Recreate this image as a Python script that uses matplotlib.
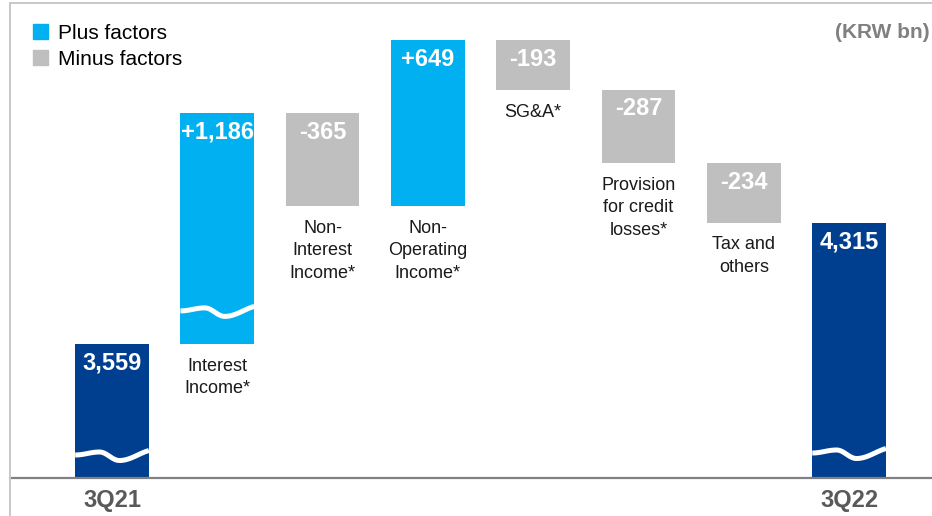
import numpy as np
import matplotlib.pyplot as plt
from matplotlib.patches import Patch
from matplotlib.lines import Line2D

plt.rcParams['font.family'] = ['Liberation Sans', 'DejaVu Sans']

# net income bridge, KRW bn
start_lb = '3Q21'
end_lb = '3Q22'
start_val = 3559
end_val = 4315
factors = ['Interest\nIncome*', 'Non-\nInterest\nIncome*', 'Non-\nOperating\nIncome*',
           'SG&A*', 'Provision\nfor credit\nlosses*', 'Tax and\nothers']
deltas = [1186, -365, 649, -193, -287, -234]

cplus = '#00b0f0'
cminus = '#bfbfbf'
ctot = '#003f8f'
ctxt = '#1a1a1a'

brk = 280            # part of the interest bar hidden by the break
ylo, yhi = 3033, 4896
w = 0.70

fig = plt.figure(figsize=(9.32, 5.16), dpi=100)
ax = fig.add_axes([10/932, 38/516, 922/932, 475/516])
ax.set_xlim(-0.969, 7.787)
ax.set_ylim(ylo, yhi)
s = 475/(yhi-ylo)    # px per unit

def wave(xc, ybase, off):
    t = np.linspace(0, 1, 80)
    tk = [0, 0.33, 0.6, 1.1]
    yk = [0, 3, -5.5, 5.5]
    y = np.zeros_like(t)
    for j in range(len(tk)-1):
        m = (t >= tk[j]) & (t <= tk[j+1])
        u = (t[m]-tk[j])/(tk[j+1]-tk[j])
        y[m] = yk[j] + (yk[j+1]-yk[j])*(1-np.cos(np.pi*u))/2
    ax.plot(xc - w/2 + w*t, ybase + (off + y)/s, color='white', lw=3.6,
            solid_capstyle='butt', zorder=3)

def vlabel(x, top, txt):
    ax.annotate(txt, (x, top), xytext=(0, -18.5), textcoords='offset points',
                ha='center', va='baseline', color='white', fontsize=17,
                fontweight='bold', zorder=4)

# start bar
ax.bar(0, start_val-ylo, bottom=ylo, width=w, color=ctot, zorder=2)
wave(0, ylo, 23)
vlabel(0, start_val, f'{start_val:,}')

disp = start_val
for k, d in enumerate(deltas):
    shown = d - brk if k == 0 else d
    bot, top = (disp, disp+shown) if d > 0 else (disp+shown, disp)
    x = k + 1
    ax.bar(x, top-bot, bottom=bot, width=w, color=cplus if d > 0 else cminus, zorder=2)
    if k == 0:
        wave(x, bot, 33)
    vlabel(x, top, f'{d:+,}')
    ax.annotate(factors[k], (x, bot), xytext=(0, -10), textcoords='offset points',
                ha='center', va='top', color=ctxt, fontsize=13, linespacing=1.42)
    disp += shown

# end bar
ax.bar(7, disp-ylo, bottom=ylo, width=w, color=ctot, zorder=2)
wave(7, ylo, 25)
vlabel(7, disp, f'{end_val:,}')

for sp in ['top', 'right', 'left']:
    ax.spines[sp].set_visible(False)
ax.spines['bottom'].set_color('#808080')
ax.spines['bottom'].set_linewidth(1.6)
ax.spines['bottom'].set_zorder(5)
ax.set_yticks([])
ax.set_xticks([0, 7])
ax.set_xticklabels([start_lb, end_lb], fontsize=17, fontweight='bold', color='#595959')
ax.tick_params(axis='x', length=0, pad=8)

ax.legend(handles=[Patch(color=cplus, label='Plus factors'),
                   Patch(color=cminus, label='Minus factors')],
          loc='upper left', bbox_to_anchor=(33/932, 1-24/516), bbox_transform=fig.transFigure,
          frameon=False, fontsize=15, handlelength=0.7, handleheight=0.7,
          handletextpad=0.5, labelspacing=0.32, borderaxespad=0, borderpad=0)

fig.text(930/932, 1-33/516, '(KRW bn)', ha='right', va='center', fontsize=15,
         fontweight='bold', color='#808080')

# frame
fig.add_artist(Line2D([10/932, 1], [1-3/516]*2, color='#c8c8c8', lw=1.4))
fig.add_artist(Line2D([10/932]*2, [0, 1-3/516], color='#c8c8c8', lw=1.4))

fig.savefig('out.png', dpi=100)
